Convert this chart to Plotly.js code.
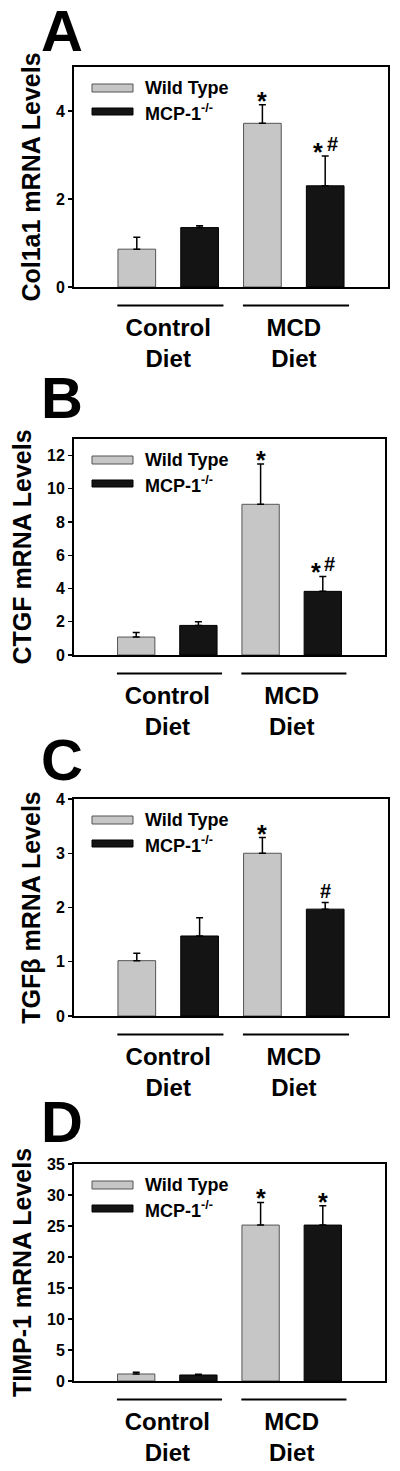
<!DOCTYPE html>
<html>
<head>
<meta charset="utf-8">
<script src="https://cdn.plot.ly/plotly-3.0.1.min.js"></script>
<style>html,body{margin:0;padding:0;background:#fff;}#chart{width:400px;height:1471px;}</style>
</head>
<body>
<div id="chart"></div>
<script>
// ---- data ----
const categories = ['Control<br>Diet', 'MCD<br>Diet'];
const seriesNames = ['Wild Type', 'MCP-1<sup>-/-</sup>'];
const panelLetters = ['A', 'B', 'C', 'D'];
const yTitles = ['Col1a1 mRNA Levels', 'CTGF mRNA Levels', 'TGFβ mRNA Levels', 'TIMP-1 mRNA Levels'];

const col1a1WT = [0.86, 3.72];
const col1a1WTErr = [0.27, 0.42];
const col1a1KO = [1.35, 2.30];
const col1a1KOErr = [0.04, 0.68];
const col1a1WTSig = ['', '*'];
const col1a1KOSig = ['', '* #'];

const ctgfWT = [1.08, 9.07];
const ctgfWTErr = [0.28, 2.43];
const ctgfKO = [1.78, 3.83];
const ctgfKOErr = [0.22, 0.90];
const ctgfWTSig = ['', '*'];
const ctgfKOSig = ['', '* #'];

const tgfbWT = [1.02, 3.00];
const tgfbWTErr = [0.135, 0.29];
const tgfbKO = [1.475, 1.97];
const tgfbKOErr = [0.335, 0.12];
const tgfbWTSig = ['', '*'];
const tgfbKOSig = ['', '#'];

const timpWT = [1.13, 25.15];
const timpWTErr = [0.27, 3.65];
const timpKO = [0.97, 25.15];
const timpKOErr = [0.11, 3.12];
const timpWTSig = ['', '*'];
const timpKOSig = ['', '*'];

const yRanges = [[0, 5], [0, 13], [0, 4], [0, 35]];
const yDticks = [2, 2, 1, 5];

// ---- layout geometry (pixels) ----
const W = 400, H = 1471;
const boxes = [
  {l: 74, r: 388, t: 67, b: 287, letterY: 31},
  {l: 74, r: 385, t: 439, b: 655, letterY: 397},
  {l: 74, r: 388, t: 799, b: 1016, letterY: 759},
  {l: 74, r: 385, t: 1164, b: 1381, letterY: 1121}
];
const px = x => x / W;
const py = y => 1 - y / H;

const FONT = 'Liberation Sans, Arial, Helvetica, sans-serif';
const GRAY = '#c6c6c6', BLACK = '#141414';

const panels = [
  {wt: col1a1WT, wtE: col1a1WTErr, ko: col1a1KO, koE: col1a1KOErr, wtS: col1a1WTSig, koS: col1a1KOSig},
  {wt: ctgfWT, wtE: ctgfWTErr, ko: ctgfKO, koE: ctgfKOErr, wtS: ctgfWTSig, koS: ctgfKOSig},
  {wt: tgfbWT, wtE: tgfbWTErr, ko: tgfbKO, koE: tgfbKOErr, wtS: tgfbWTSig, koS: tgfbKOSig},
  {wt: timpWT, wtE: timpWTErr, ko: timpKO, koE: timpKOErr, wtS: timpWTSig, koS: timpKOSig}
];

const traces = [];
const layout = {
  width: W, height: H,
  margin: {l: 0, r: 0, t: 0, b: 0},
  paper_bgcolor: '#fff', plot_bgcolor: '#fff',
  barmode: 'group', bargap: 0, bargroupgap: 0.4,
  showlegend: false,
  font: {family: FONT, color: '#000'},
  shapes: [], annotations: []
};

panels.forEach((p, k) => {
  const n = k + 1;
  const xa = 'x' + (n === 1 ? '' : n), ya = 'y' + (n === 1 ? '' : n);
  const box = boxes[k];
  const series = [
    {y: p.wt, e: p.wtE, s: p.wtS, color: GRAY, line: '#555', name: seriesNames[0], off: -0.25},
    {y: p.ko, e: p.koE, s: p.koS, color: BLACK, line: '#000', name: seriesNames[1], off: 0.25}
  ];
  series.forEach(sr => {
    traces.push({
      type: 'bar', x: categories, y: sr.y, name: sr.name,
      xaxis: xa, yaxis: ya,
      marker: {color: sr.color, line: {color: sr.line, width: 1}},
      error_y: {type: 'data', symmetric: false, array: sr.e, arrayminus: sr.e.map(() => 0),
                color: '#000', thickness: 1.5, width: 3.5},
      hoverinfo: 'y'
    });
    sr.s.forEach((txt, i) => {
      if (!txt) return;
      const toks = txt.split(' ');
      toks.forEach((tk, j) => {
        const isStar = tk === '*';
        layout.annotations.push({
          xref: xa, yref: ya, x: i + sr.off, y: sr.y[i] + sr.e[i],
          text: tk, showarrow: false, xanchor: 'center', yanchor: 'bottom',
          xshift: toks.length > 1 ? (j === 0 ? -7 : 7) : 0,
          yshift: isStar ? -12 : -1,
          font: {family: FONT, size: isStar ? 25 : 20, weight: 700, color: '#000'}
        });
      });
    });
  });

  layout['xaxis' + (n === 1 ? '' : n)] = {
    domain: [px(box.l), px(box.r)], anchor: ya, type: 'category',
    range: [-0.75, 1.75], showline: true, linewidth: 2, linecolor: '#000', mirror: true,
    ticks: '', showgrid: false, zeroline: false, fixedrange: true,
    tickfont: {family: FONT, size: 24, weight: 700, color: '#000'},
    ticklabelstandoff: 18
  };
  layout['yaxis' + (n === 1 ? '' : n)] = {
    domain: [py(box.b), py(box.t)], anchor: xa,
    range: yRanges[k], dtick: yDticks[k], tick0: 0,
    showline: true, linewidth: 2, linecolor: '#000', mirror: true,
    ticks: 'outside', ticklen: 4, tickwidth: 1.2, tickcolor: '#000',
    showgrid: false, zeroline: false, fixedrange: true,
    tickfont: {family: FONT, size: 16, weight: 700, color: '#000'},
    title: {text: yTitles[k], font: {family: FONT, size: 25, weight: 700, color: '#000'}, standoff: 8}
  };

  // group underlines
  categories.forEach((c, i) => {
    layout.shapes.push({
      type: 'line', xref: xa, yref: 'paper',
      x0: i - 0.405, x1: i + 0.44, y0: py(box.b + 18.5), y1: py(box.b + 18.5),
      line: {color: '#000', width: 2}
    });
  });

  // legend (drawn)
  const legRows = [
    {top: 17, bot: 25, color: GRAY, line: '#555', ty: 21, text: seriesNames[0]},
    {top: 41, bot: 48, color: BLACK, line: '#000', ty: 45.5, text: seriesNames[1]}
  ];
  legRows.forEach(r => {
    layout.shapes.push({
      type: 'rect', xref: 'paper', yref: 'paper',
      x0: px(box.l + 18), x1: px(box.l + 59), y0: py(box.t + r.bot), y1: py(box.t + r.top),
      fillcolor: r.color, line: {color: r.line, width: 1}
    });
    layout.annotations.push({
      xref: 'paper', yref: 'paper', x: px(box.l + 69), y: py(box.t + r.ty),
      text: r.text, showarrow: false, xanchor: 'left', yanchor: 'middle',
      font: {family: FONT, size: 18, weight: 700, color: '#000'}
    });
  });

  // panel letter
  layout.annotations.push({
    xref: 'paper', yref: 'paper', x: px(62), y: py(box.letterY),
    text: panelLetters[k], showarrow: false, xanchor: 'center', yanchor: 'middle',
    font: {family: FONT, size: 58, weight: 700, color: '#000'}
  });
});

Plotly.newPlot('chart', traces, layout, {displayModeBar: false, staticPlot: true});
</script>
</body>
</html>
